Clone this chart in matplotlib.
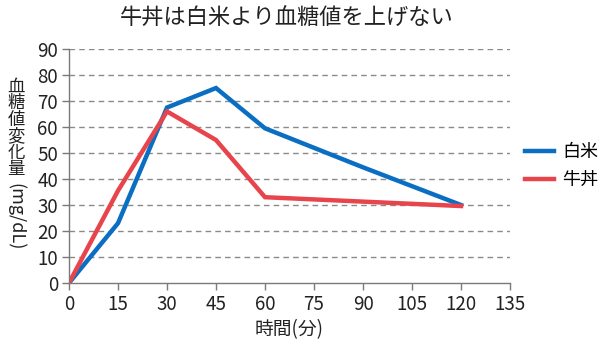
import matplotlib
matplotlib.use("Agg")
import matplotlib.pyplot as plt

plt.rcParams['font.family'] = ['Noto Sans CJK JP', 'DejaVu Sans']

minutes = [0, 15, 30, 45, 60, 90, 120]
rice = [0, 23, 67.5, 75, 59.5, 44.5, 30]
gyudon = [0, 35.5, 66, 55, 33, 31.3, 29.6]
x_ticks = [0, 15, 30, 45, 60, 75, 90, 105, 120, 135]
y_ticks = [0, 10, 20, 30, 40, 50, 60, 70, 80, 90]
ylabel_cjk = '血糖値変化量'
ylabel_unit = '(mg/dL)'

blue = '#0a6fc2'
red = '#e8444c'
gray = '#7a7a7a'
txt = '#222222'

W, H = 600, 343
fig = plt.figure(figsize=(W / 100, H / 100), dpi=100)
ax = fig.add_axes([0.115, 0.175, 0.735, 0.682])

for y in y_ticks[1:]:
    ax.axhline(y, color='#8a8a8a', lw=1.0, ls=(0, (4, 3)), zorder=1)

l1, = ax.plot(minutes, rice, color=blue, lw=3.2, solid_joinstyle='miter', zorder=3, label='白米')
l2, = ax.plot(minutes, gyudon, color=red, lw=3.2, solid_joinstyle='miter', zorder=3, label='牛丼')

ax.set_xlim(0, 135)
ax.set_ylim(0, 90)
ax.set_xticks(x_ticks)
ax.set_yticks(y_ticks)
ax.tick_params(axis='both', direction='out', length=5, width=1, color=gray,
               labelsize=13.5, labelcolor=txt, pad=3)
for s in ['top', 'right']:
    ax.spines[s].set_visible(False)
for s in ['left', 'bottom']:
    ax.spines[s].set_color(gray)
    ax.spines[s].set_linewidth(1)
    ax.spines[s].set_zorder(4)

ax.set_xlabel('時間(分)', fontsize=13.5, color=txt, labelpad=3)

fig.text(0.478, 0.945, '牛丼は白米より血糖値を上げない', ha='center', va='center',
         fontsize=16, color=txt)

# vertical y label: upright CJK characters stacked, then rotated unit
x_lab = 16 / W
for i, ch in enumerate(ylabel_cjk):
    yc = 86.5 + i * 16.5
    fig.text(x_lab, 1 - yc / H, ch, ha='center', va='center', fontsize=12.5, color=txt)
fig.text(x_lab, 1 - 216.5 / H, ylabel_unit, ha='center', va='center', fontsize=13,
         rotation=270, color=txt)

leg = fig.legend(handles=[l1, l2], loc='center left', bbox_to_anchor=(0.875, 0.515),
                 frameon=False, fontsize=13, handlelength=1.6, handletextpad=0.45,
                 labelspacing=0.55, borderaxespad=0, borderpad=0)

fig.savefig('out.png', dpi=100)
